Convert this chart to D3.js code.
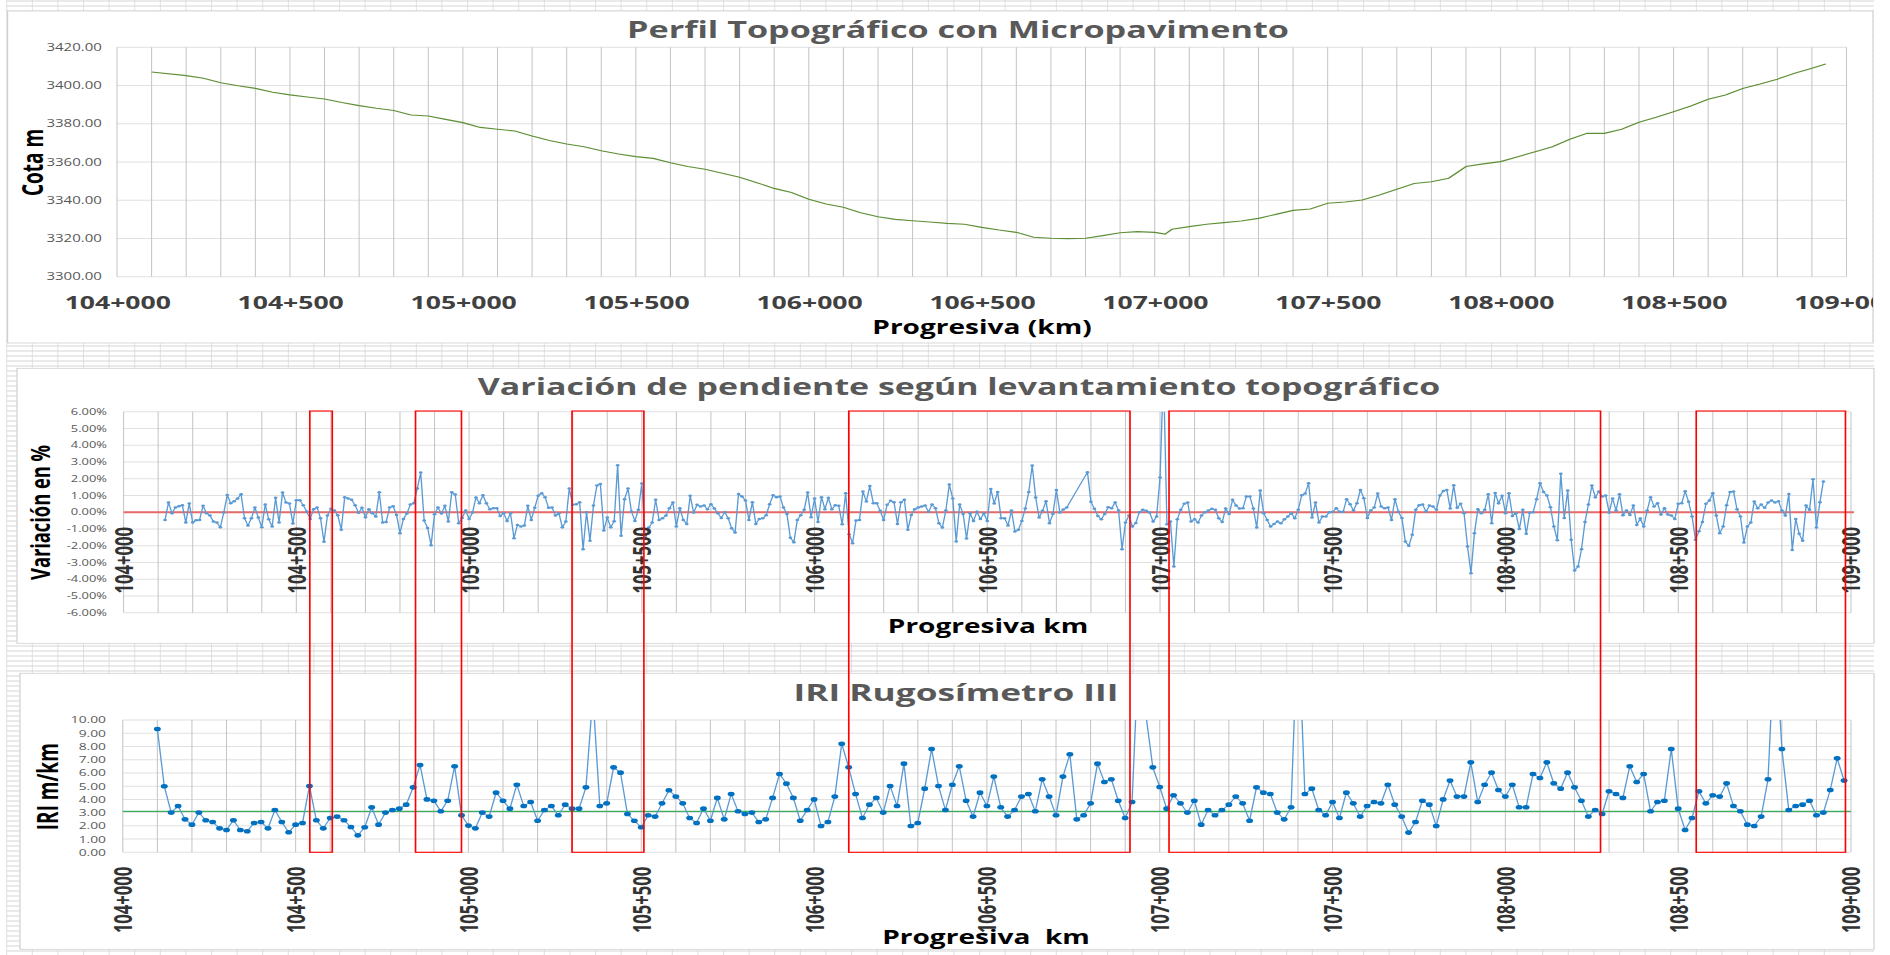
<!DOCTYPE html>
<html>
<head>
<meta charset="utf-8">
<script src="https://cdnjs.cloudflare.com/ajax/libs/d3/7.8.5/d3.min.js"></script>
<style>
    body { margin: 0; background: #fff; overflow: hidden; }
    svg { display: block; }
    text { font-family: "Open Sans", "DejaVu Sans", sans-serif; }
</style>
</head>
<body>
<script>
// --- data ---
const kmTicks = [104000, 104500, 105000, 105500, 106000, 106500, 107000, 107500, 108000, 108500, 109000];
const cotaTicks = [3300, 3320, 3340, 3360, 3380, 3400, 3420];
const slopeTicks = [-6, -5, -4, -3, -2, -1, 0, 1, 2, 3, 4, 5, 6];
const iriTicks = [0, 1, 2, 3, 4, 5, 6, 7, 8, 9, 10];

const profileStations = [104100, 104200, 104250, 104300, 104350, 104400, 104450, 104500, 104550, 104600,
    104650, 104700, 104750, 104800, 104850, 104900, 104950, 105000, 105050, 105100,
    105150, 105200, 105250, 105300, 105350, 105400, 105450, 105500, 105550, 105600,
    105650, 105700, 105800, 105850, 105900, 105950, 106000, 106050, 106100, 106150,
    106200, 106250, 106300, 106350, 106400, 106450, 106500, 106550, 106600, 106650,
    106700, 106750, 106800, 106850, 106900, 106950, 107000, 107030, 107050, 107100,
    107150, 107200, 107250, 107300, 107350, 107400, 107450, 107500, 107550, 107600,
    107650, 107700, 107750, 107800, 107850, 107900, 107950, 108000, 108050, 108100,
    108150, 108200, 108250, 108300, 108350, 108400, 108450, 108500, 108550, 108600,
    108650, 108700, 108750, 108800, 108850, 108900, 108940];
const profileElevations = [3407.1, 3405.2, 3403.8, 3401.5, 3399.9, 3398.5, 3396.5, 3395.1, 3394.0, 3393.0,
    3391.1, 3389.5, 3388.1, 3386.9, 3384.6, 3384.1, 3382.3, 3380.6, 3378.1, 3377.1,
    3376.2, 3373.6, 3371.2, 3369.4, 3368.0, 3365.9, 3364.2, 3362.8, 3361.9, 3359.6,
    3357.6, 3356.2, 3352.0, 3349.2, 3346.2, 3344.0, 3340.5, 3338.0, 3336.3, 3333.5,
    3331.4, 3330.0, 3329.3, 3328.6, 3327.9, 3327.4, 3325.8, 3324.4, 3323.2, 3320.6,
    3320.1, 3319.9, 3320.1, 3321.5, 3323.0, 3323.6, 3323.2, 3322.3, 3324.8, 3326.2,
    3327.4, 3328.3, 3329.1, 3330.5, 3332.6, 3334.7, 3335.4, 3338.4, 3339.1, 3340.1,
    3342.7, 3345.7, 3348.8, 3349.7, 3351.5, 3357.6, 3359.0, 3360.2, 3362.8, 3365.4,
    3368.0, 3371.9, 3375.0, 3375.0, 3377.1, 3380.8, 3383.4, 3386.3, 3389.3, 3392.8,
    3395.1, 3398.5, 3400.8, 3403.3, 3406.4, 3409.0, 3411.3];

// slope variation in %, one reading every 10 m from 104+120 (null = no reading)
const slopeStart = 104120, slopeStep = 10;
const slopeValues = [
    -0.46, 0.58, -0.06, 0.28, 0.36, 0.42, -0.62, 0.52, -0.62, -0.48,
    -0.46, 0.38, -0.06, -0.2, -0.56, -0.62, -0.9, -0.02, 1.03, 0.54,
    0.66, 0.82, 1.07, -0.36, -0.8, -0.36, 0.28, -0.32, -0.9, 0.46,
    -0.42, -0.86, 0.86, -0.62, 1.17, 0.58, 0.52, -0.68, 0.72, 0.72,
    0.42, 0.04, -0.4, 0.18, 0.28, -0.36, -1.77, -0.2, 0.2, 0.1,
    -0.18, -1.05, 0.9, 0.82, 0.74, 0.42, -0.04, 0.26, -0.3, 0.18,
    -0.06, -0.26, 1.19, -0.62, -0.58, 0.28, 0.36, -0.16, -1.25, -0.4,
    -0.08, 0.46, 0.54, 1.41, 2.37, -0.5, -0.94, -1.97, -0.12, 0.28,
    -0.08, 0.38, -0.56, 1.19, 1.05, -0.66, -0.34, 0.1, -0.4, -0.02,
    0.88, 0.54, 1.01, 0.54, 0.18, 0.24, 0.24, -0.22, -0.06, -0.52,
    -0.06, -1.55, -0.76, -0.86, -0.8, 0.38, -0.46, 0.26, 0.98, 1.13,
    0.9, 0.26, 0.28, -0.2, -0.06, -0.9, -0.56, 1.41, 0.44, 0.48,
    0.6, -2.21, 0, -1.71, 0.4, 1.59, 1.69, -1.09, -0.32, -0.9,
    -0.54, 2.81, -1.41, 0.78, 1.41, 0.04, -0.52, 0.14, 1.71, -1.6,
    -0.92, -0.62, 0.74, -0.46, -0.36, -0.2, 0.24, 0.58, -0.86, 0.24,
    -0.46, -0.7, 0.98, -0.02,
    0.44, 0.34, 0.40, 0.18, 0.48, 0.22, -0.06, -0.34, 0.00, -0.36,
    -0.96, -1.21, 1.09, 0.94, 0.70, -0.46, 0.60, -0.70, -0.40, -0.36,
    -0.18, 0.48, 1.01, 0.90, 0.94, 0.28, -0.10, -1.53, -1.79, -0.46,
    -0.18, 0.14, 1.17, -0.30, 0.82, -0.58, 0.90, 0.18, 0.86, 0.18,
    0.42, 0.38, -0.72, 1.13, -1.31, -1.85, -0.50, -0.46, 1.23, 0.64,
    1.57, 0.54, 0.54, 0.08, -0.46, 0.44, 0.68, 0.60, -0.70, 0.60,
    0.74, -1.05, -0.16, 0.18, 0.28, 0.34, 0.40, 0.02, 0.46, 0.24,
    -0.66, -0.92, 0.10, 1.65, 0.82, -1.75, 0.46, -0.10, -1.57, -0.06,
    -0.52, 0.02, -0.40, -0.08, -0.52, 1.39, 0.52, 1.21, -0.36, -0.36,
    -0.80, 0.10, -1.15, -1.05, -0.52, 0.22, 1.21, 2.79, 0.88, -0.32,
    0.08, 0.66, -0.66, -0.10, 1.33, -0.02, 0.16, 0.28, null, null,
    null, null, null, 2.39, 0.62, 0.20, -0.22, -0.42, -0.10, 0.30,
    0.24, 0.58, 0.10, -2.21, -0.62, -0.20, -0.86, -0.64, 0.00, 0.14,
    0.08, -0.02, -0.56, -0.26, 2.07, 8.4, -0.72, -0.56, -3.24, -0.42,
    0.14, 0.50, 0.58, -0.56, -0.42, -0.62, -0.20, 0.00, 0.10, 0.20,
    0.14, -0.36, -0.58, 0.22, -0.10, 0.74, 0.40, 0.22, 0.24, 0.94,
    0.94, 0.22, -0.92, 1.29, -0.06, -0.46, -0.86, -0.70, -0.56, -0.66,
    -0.42, -0.26, -0.06,
    -0.36, 0.14, 1.01, 1.11, 1.73, -0.32, 0.58, -0.62, -0.26, -0.26,
    0.00, 0.02, 0.24, 0.02, 0.02, 0.78, 0.48, 0.10, 0.54, 1.33,
    0.84, -0.34, 0.10, 0.28, 1.11, 0.34, 0.24, 0.28, -0.46, 0.78,
    0.02, -0.34, -1.75, -2.01, -1.35, 0.14, 0.42, 0.46, 0.04, 0.40,
    0.34, 0.14, 1.00, 1.27, 1.33, 0.22, 1.61, 0.26, 0.50, -0.06,
    -2.05, -3.64, -1.25, 0.18, -0.06, 0.14, 1.07, -0.66, 1.15, 0.54,
    0.98, -0.06, 1.13, -0.22, -0.06, -1.01, 0.14, -1.29, -0.04, 0.00,
    0.78, 1.73, 1.21, 1.00, 0.30, -0.86, -1.67, 2.29, -0.34, 1.29,
    -1.65, -3.48, -3.24, -2.21, -0.58, 0.46, 1.59, 0.90, 1.23, 0.94,
    1.00, -0.02, 0.82, 0.10, 1.07, -0.18, 0.10, -0.16, 0.40, -0.76,
    -0.38, -0.86, 0.10, 0.90, 0.34, 0.54, -0.14, 0.24, -0.14, -0.20,
    -0.40, 0.50, 0.54, 1.25, 0.62, -0.26, -1.65, -1.13, -0.58, 0.50,
    0.70, 1.13, -0.20, -1.25, -0.86, 0.42, 1.21, 1.23, 0.18, -0.26,
    -1.81, -0.86, -0.62, 0.64, 0.24, 0.46, 0.26, 0.58, 0.70, 0.58,
    0.66, 0.10, -0.20, 1.09, -2.25, -0.40, -1.29, -1.71, 0.40, 0.14,
    1.97, -0.92, 0.60, 1.83];

// IRI m/km, one reading every 20 m from 104+100
const iriStart = 104100, iriStep = 20;
const iriValues = [
    9.32, 4.99, 3.0, 3.5, 2.49, 2.09, 3.0, 2.42, 2.29, 1.81,
    1.69, 2.42, 1.69, 1.59, 2.22, 2.29, 1.81, 3.2, 2.29, 1.51,
    2.09, 2.22, 5.01, 2.42, 1.81, 2.59, 2.7, 2.42, 1.91, 1.28,
    1.89, 3.4, 2.09, 3.0, 3.2, 3.3, 3.6, 4.91, 6.6, 4.0,
    3.9, 3.1, 3.9, 6.5, 2.8, 2.02, 1.81, 3.0, 2.7, 4.51,
    3.9, 3.3, 5.11, 3.5, 3.8, 2.39, 3.2, 3.5, 2.8, 3.6,
    3.3, 3.3, 4.91, 11.9, 3.5, 3.7, 6.42, 6.02, 2.9, 2.39,
    1.89, 2.8, 2.7, 3.7, 4.69, 4.21, 3.7, 2.59, 2.22,
    3.30, 2.39, 4.11, 2.49, 4.41, 3.10, 2.90, 3.00, 2.29, 2.49,
    4.11, 5.92, 5.19, 4.11, 2.39, 3.20, 4.00, 1.99, 2.29, 4.21,
    8.21, 6.42, 4.41, 2.59, 3.60, 4.11, 3.00, 5.01, 3.50, 6.70,
    1.99, 2.22, 4.81, 7.81, 5.01, 3.20, 5.11, 6.50, 3.90, 2.70,
    4.51, 3.50, 5.72, 3.40, 2.70, 3.20, 4.21, 4.41, 3.10, 5.52,
    4.21, 2.80, 5.72, 7.41, 2.49, 2.80, 3.70, 6.70, 5.31, 5.52,
    3.90, 2.59, 3.80, 16, 10.4, 6.42, 4.94, 3.30, 4.31, 3.70,
    3.00, 3.90, 2.09, 3.20, 2.80, 3.20, 3.60, 4.21, 3.70, 2.39,
    4.91, 4.51, 4.41, 3.00, 2.49, 3.40,
    18, 4.41, 4.81, 3.20, 2.80, 3.80, 2.59, 4.51, 3.70, 2.70,
    3.50, 3.80, 3.70, 5.11, 3.60, 2.70, 1.49, 2.29, 3.90, 3.60,
    1.99, 4.00, 5.42, 4.21, 4.21, 6.80, 3.80, 5.11, 6.02, 4.71,
    4.21, 5.11, 3.40, 3.40, 5.92, 5.62, 6.80, 5.21, 4.81, 6.02,
    4.91, 3.90, 2.70, 3.20, 2.90, 4.61, 4.41, 4.11, 6.50, 5.31,
    5.92, 3.10, 3.80, 3.90, 7.81, 3.30, 1.69, 2.59, 4.61, 3.70,
    4.31, 4.21, 5.21, 3.50, 3.10, 2.09, 1.99, 2.70, 5.52, 17,
    7.81, 3.20, 3.50, 3.60, 3.90, 2.80, 3.00, 4.71, 7.10, 5.42];
const iriReference = 3.1;

// stretches marked in red across the slope and IRI charts
const highlightRanges = [[104539, 104604], [104845, 104978], [105298, 105506],
    [106099, 106913], [107026, 108275], [108552, 108984]];

// --- layout ---
// the sheet picture is stretched sideways, so everything is drawn narrow and scaled by S
const S = 1.5;
const W = 1890, H = 955;
const u = v => v / S;
const fmtKm = d => `${Math.floor(d / 1000)}+${String(d % 1000).padStart(3, "0")}`;

const svg = d3.select("body").append("svg")
    .attr("width", W)
    .attr("height", H)
    .attr("viewBox", `0 0 ${u(W)} ${H}`)
    .attr("preserveAspectRatio", "none");
const defs = svg.append("defs");

// spreadsheet cells behind the charts
const sheet = svg.append("g").attr("stroke", "#d6d6d6");
sheet.selectAll("line.col")
    .data(d3.range(6.7, 1875, 25.6))
    .join("line")
    .attr("class", "col")
    .attr("x1", d => u(d)).attr("x2", d => u(d))
    .attr("y1", 0).attr("y2", H)
    .attr("stroke-width", 0.6);
sheet.selectAll("line.row")
    .data(d3.range(1, H, 5))
    .join("line")
    .attr("class", "row")
    .attr("x1", u(6.7)).attr("x2", u(1874))
    .attr("y1", d => d).attr("y2", d => d)
    .attr("stroke-width", 0.8);

const drawFrame = (x0, y0, x1, y1) => {
    svg.append("rect")
        .attr("x", u(x0)).attr("y", y0)
        .attr("width", u(x1 - x0)).attr("height", y1 - y0)
        .attr("fill", "#fff")
        .attr("stroke", "#d0d0d0")
        .attr("stroke-width", 0.8);
}

const addClip = (id, x0, y0, x1, y1) => {
    defs.append("clipPath").attr("id", id)
        .append("rect")
        .attr("x", x0).attr("y", y0)
        .attr("width", x1 - x0).attr("height", y1 - y0);
}

const addText = (g, xFull, y, str, size, fill, opts = {}) => {
    const t = g.append("text")
        .attr("font-size", size)
        .attr("font-weight", opts.weight || "bold")
        .attr("fill", fill)
        .attr("text-anchor", "middle")
        .style("white-space", "pre")
        .text(str);
    if (opts.rotate) {
        t.attr("transform", `translate(${u(xFull)},${y}) rotate(-90)`).attr("dy", "0.35em");
    } else {
        t.attr("x", u(xFull)).attr("y", y);
    }
    return t;
}

const drawGrid = (g, x, y, yTicks) => {
    g.append("g").selectAll("line")
        .data(yTicks)
        .join("line")
        .attr("x1", x(104000)).attr("x2", x(109000))
        .attr("y1", d => y(d)).attr("y2", d => y(d))
        .attr("stroke", "#e0e0e0")
        .attr("stroke-width", 1);
    g.append("g").selectAll("line")
        .data(d3.range(104000, 109001, 100))
        .join("line")
        .attr("x1", d => x(d)).attr("x2", d => x(d))
        .attr("y1", y.range()[0]).attr("y2", y.range()[1])
        .attr("stroke", "#c6c6c6")
        .attr("stroke-width", 0.7);
}

const drawYAxis = (g, x, y, ticks, fmt, size, padFull) => {
    const ax = g.append("g")
        .attr("transform", `translate(${x(104000)},0)`)
        .call(d3.axisLeft(y).tickValues(ticks).tickSize(0).tickPadding(u(padFull)).tickFormat(fmt));
    ax.select(".domain").remove();
    ax.attr("font-size", size).attr("font-family", null);
    ax.selectAll("text").attr("fill", "#595959");
}

const drawRotatedKm = (g, x, yPos, offset) => {
    const ax = g.append("g")
        .attr("transform", `translate(0,${yPos})`)
        .call(d3.axisBottom(x).tickValues(kmTicks).tickSize(0).tickFormat(fmtKm));
    ax.select(".domain").remove();
    ax.attr("font-size", 16.6).attr("font-family", null);
    ax.selectAll("text")
        .attr("transform", "rotate(-90)")
        .attr("x", -offset).attr("y", 0).attr("dy", "0.35em")
        .attr("text-anchor", "end")
        .attr("font-weight", "bold")
        .attr("fill", "#333");
}

// ---------- Perfil topográfico ----------
drawFrame(7.6, 11, 1873, 343);
addClip("clipTop", u(7.6), 11, u(1873), 343);
const topG = svg.append("g").attr("clip-path", "url(#clipTop)");
const xTop = d3.scaleLinear().domain([104000, 109000]).range([u(117), u(1846.5)]);
const yTop = d3.scaleLinear().domain([3300, 3420]).range([276.7, 47.3]);

drawGrid(topG, xTop, yTop, cotaTicks);
drawYAxis(topG, xTop, yTop, cotaTicks, d => d.toFixed(2), 10, 15.2);

const topX = topG.append("g")
    .attr("transform", `translate(0,${yTop(3300)})`)
    .call(d3.axisBottom(xTop).tickValues(kmTicks).tickSize(0).tickFormat(fmtKm));
topX.select(".domain").remove();
topX.attr("font-size", 17.7).attr("font-family", null);
topX.selectAll("text")
    .attr("y", 309 - 276.7).attr("dy", 0)
    .attr("font-weight", "bold")
    .attr("fill", "#404040");

topG.append("path")
    .datum(profileStations.map((s, i) => [s, profileElevations[i]]))
    .attr("fill", "none")
    .attr("stroke", "#5e8f36")
    .attr("stroke-width", 1.1)
    .attr("d", d3.line().x(d => xTop(d[0])).y(d => yTop(d[1])));

addText(topG, 958, 38, "Perfil Topográfico con Micropavimento", 22.8, "#595959");
addText(topG, 982, 334.3, "Progresiva (km)", 18.7, "#000");
addText(topG, 33, 162.5, "Cota m", 19, "#000", {rotate: true});

// ---------- Variación de pendiente ----------
drawFrame(17, 368.3, 1874, 643.3);
const midG = svg.append("g");
const xMid = d3.scaleLinear().domain([104000, 109000]).range([u(123.6), u(1851)]);
const yMid = d3.scaleLinear().domain([-6, 6]).range([612.7, 411.7]);

drawGrid(midG, xMid, yMid, slopeTicks);
drawYAxis(midG, xMid, yMid, slopeTicks, d => d.toFixed(2) + "%", 8.6, 16.6);

midG.append("line")
    .attr("x1", xMid(104000)).attr("x2", xMid(109000) + u(3))
    .attr("y1", yMid(0)).attr("y2", yMid(0))
    .attr("stroke", "#e66a6a")
    .attr("stroke-width", 2);

addClip("clipMid", xMid(104000) - 3, yMid(6), xMid(109000) + 3, yMid(-6));
const slopePts = slopeValues
    .map((v, i) => ({s: slopeStart + i * slopeStep, v: v}))
    .filter(d => d.v !== null);
const midSeries = midG.append("g").attr("clip-path", "url(#clipMid)");
midSeries.append("path")
    .datum(slopePts)
    .attr("fill", "none")
    .attr("stroke", "#5b9bd5")
    .attr("stroke-width", 0.9)
    .attr("d", d3.line().x(d => xMid(d.s)).y(d => yMid(d.v)));
midSeries.selectAll("circle")
    .data(slopePts)
    .join("circle")
    .attr("cx", d => xMid(d.s))
    .attr("cy", d => yMid(d.v))
    .attr("r", 1.25)
    .attr("fill", "#5b9bd5");

drawRotatedKm(midG, xMid, yMid(0), 527 - yMid(0));

addText(midG, 959, 395, "Variación de pendiente según levantamiento topográfico", 22.6, "#595959");
addText(midG, 988, 633.3, "Progresiva km", 18.7, "#000");
addText(midG, 40, 512.5, "Variación en %", 18.3, "#000", {rotate: true});

// ---------- IRI ----------
drawFrame(20, 673.3, 1874, 949.3);
const botG = svg.append("g");
const xBot = d3.scaleLinear().domain([104000, 109000]).range([u(122.8), u(1851)]);
const yBot = d3.scaleLinear().domain([0, 10]).range([852.3, 720]);

drawGrid(botG, xBot, yBot, iriTicks);
drawYAxis(botG, xBot, yBot, iriTicks, d => d.toFixed(2), 9.2, 16.8);

botG.append("line")
    .attr("x1", xBot(104000)).attr("x2", xBot(109000))
    .attr("y1", yBot(iriReference)).attr("y2", yBot(iriReference))
    .attr("stroke", "#3aaf5c")
    .attr("stroke-width", 1.3);

addClip("clipBot", xBot(104000) - 4, yBot(10), xBot(109000) + 4, yBot(0) + 4);
const iriPts = iriValues.map((v, i) => ({s: iriStart + i * iriStep, v: v}));
const botSeries = botG.append("g").attr("clip-path", "url(#clipBot)");
botSeries.append("path")
    .datum(iriPts)
    .attr("fill", "none")
    .attr("stroke", "#5b9bd5")
    .attr("stroke-width", 0.9)
    .attr("d", d3.line().x(d => xBot(d.s)).y(d => yBot(d.v)));
botSeries.selectAll("circle")
    .data(iriPts)
    .join("circle")
    .attr("cx", d => xBot(d.s))
    .attr("cy", d => yBot(d.v))
    .attr("r", 2.3)
    .attr("fill", "#0070c0");

drawRotatedKm(botG, xBot, yBot(0), 866.7 - yBot(0));

addText(botG, 956, 700.7, "IRI Rugosímetro III", 23.5, "#595959");
addText(botG, 986, 944, "Progresiva  km", 18.7, "#000");
addText(botG, 48, 786.7, "IRI m/km", 19, "#000", {rotate: true});

// red boxes drawn over both lower charts
svg.append("g").selectAll("rect")
    .data(highlightRanges)
    .join("rect")
    .attr("x", d => xMid(d[0]))
    .attr("y", 411)
    .attr("width", d => xMid(d[1]) - xMid(d[0]))
    .attr("height", 852.3 - 411)
    .attr("fill", "none")
    .attr("stroke", "#ff0000")
    .attr("stroke-width", 1.1);
</script>
</body>
</html>
